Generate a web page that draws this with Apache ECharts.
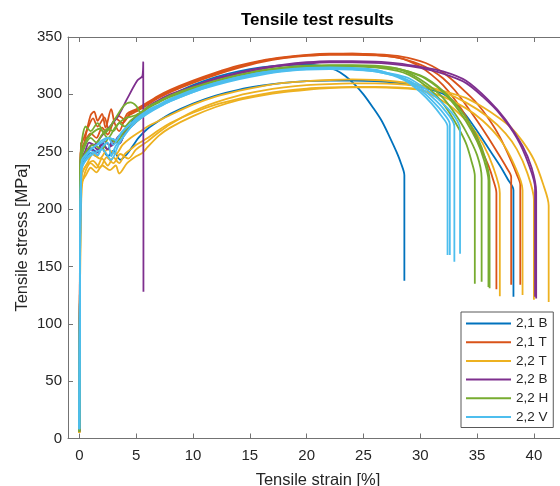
<!DOCTYPE html>
<html>
<head>
<meta charset="utf-8">
<script src="https://cdn.jsdelivr.net/npm/echarts@6/dist/echarts.min.js"></script>
<style>
  html, body { margin: 0; padding: 0; background: #fff; }
  #chart { width: 560px; height: 486px; }
</style>
</head>
<body>
<div id="chart"></div>
<script>
// Tick positions
const xTicks = [0, 5, 10, 15, 20, 25, 30, 35, 40];
const groupNames = ['2,1 B', '2,1 T', '2,2 T', '2,2 B', '2,2 H', '2,2 V'];
const groupColors = ['#0072BD', '#D95319', '#EDB120', '#7E2F8E', '#77AC30', '#4DBEEE'];

// Specimen curves: [strain %, stress MPa]
// 2,1 B
const b21_1 = [[0,7],[0.05,140],[0.12,240],[0.5,248],[1.0,253],[1.5,250],[2.0,258],[2.5,252],[3.0,261],[3.5,257],[4.0,266],[4.5,274],[5,281],[6,288],[7,294],[8,299],[10,308],[12,315],[14,320],[16,323.5],[18,325.5],[20,326],[21.5,324.5],[22.6,321],[23.4,316],[24.2,309],[25,300],[25.8,289],[26.6,277],[27.3,263],[27.9,250],[28.3,240],[28.6,229.5],[28.6,137.5]];
const b21_2 = [[0,6],[0.05,130],[0.12,236],[0.5,244],[1.0,249],[1.5,246],[2.0,253],[2.5,246],[3.0,251],[3.6,243],[4.2,248],[4.7,255],[5.2,262],[6,270],[7,277],[8,283],[10,292],[12,299],[14,304],[16,307.5],[18,310],[20,311.5],[22,312],[24,312],[26,311.5],[28,310],[29,308.5],[30,306.5],[31,304],[32,300.5],[33,293],[34,282],[35,268],[36,253],[37,238],[37.7,226],[38.2,216.5],[38.2,123.5]];
// 2,1 T
const t21_1 = [[0,6],[0.05,160],[0.12,258],[0.3,252],[0.6,266],[1.0,282],[1.3,285],[1.6,277],[2.0,283],[2.3,271],[2.8,287],[3.1,275],[3.5,268],[4.2,283],[5,287],[6,293],[7,299],[8,304],[10,312],[12,319],[14,325],[16,329.5],[18,332.5],[20,334.5],[22,335.5],[24,335.5],[26,334.5],[28,332],[29,329],[30,324],[31,317],[32,308],[33,296],[34,281],[35,260],[35.5,249],[36,238],[36.4,226],[36.7,214],[36.7,130]];
const t21_2 = [[0,5],[0.05,150],[0.15,255],[0.4,262],[0.8,272],[1.2,279],[1.6,272],[2.2,280],[2.6,269],[3.2,279],[3.8,275],[4.4,282],[5,285],[6,291],[7,297],[8,302],[10,310],[12,317],[14,323],[16,328],[18,331.5],[20,333.5],[22,334.5],[24,334.5],[26,334],[28,332],[30,326],[31,321],[32,314],[33,304],[34,291],[35,277],[36,262],[37,246],[37.6,236],[38,228],[38,134]];
const t21_3 = [[0,6],[0.05,140],[0.1,248],[0.5,259],[1.0,266],[1.5,262],[2.0,271],[2.5,265],[3.0,276],[3.5,281],[4.0,278],[4.5,284],[5,286],[6,292],[7,298],[8,303],[10,311],[12,318],[14,324],[16,329],[18,332],[20,334],[22,335],[24,335.5],[26,335],[28,333.5],[30,329],[31,325],[32,319],[33,311],[34,302],[35,292],[36,279],[37,263],[38,242],[38.5,230],[38.8,221],[38.8,134]];
// 2,2 T
const t22_1 = [[0,5],[0.05,120],[0.2,218],[0.5,232],[1,240],[1.5,236],[2,244],[2.5,238],[3,245],[3.5,240],[4,248],[4.5,252],[5,256],[6,262],[7,269],[8,275],[10,284],[12,291],[14,296],[16,300],[18,303],[20,305],[22,306],[24,306.5],[26,306.5],[28,306],[30,304],[31.5,297],[33,287],[34.5,272],[35.5,257],[36.4,237],[37,214],[37,124]];
const t22_2 = [[0,5],[0.05,110],[0.2,222],[0.6,230],[1,236],[1.5,232],[2,238],[2.7,234],[3.2,238],[3.5,231],[4.2,240],[5,246],[5.55,249],[6,254],[7,264],[8,271],[10,281],[12,289],[14,295],[16,299],[18,302],[20,304],[22,305.5],[24,306],[26,306],[28,305.5],[30,304],[32,298],[34,288],[35.5,277],[37,261],[38.2,240],[39,216.5],[39,125]];
const t22_3 = [[0,5],[0.05,130],[0.2,228],[0.6,238],[1.2,242],[1.8,236],[2.4,245],[3,240],[3.6,248],[4.3,244],[5,252],[6,259],[7,267],[8,274],[10,285],[12,293],[14,299],[16,303],[18,306],[20,308],[22,309],[24,309.5],[26,309.5],[28,309],[30,307],[32,302],[34,293],[36,280],[37.5,266],[38.5,252],[39.4,232],[40,208],[40,121]];
const t22_4 = [[0,5],[0.05,140],[0.2,230],[0.7,240],[1.2,248],[1.8,244],[2.5,252],[3.2,248],[3.8,256],[4.5,262],[5.55,269],[6,272],[7,277],[8,282],[10,291],[12,298],[14,303],[16,307],[18,310],[20,311.5],[22,312.5],[24,313],[26,312.5],[28,311],[30,308],[32,303],[34,297],[35.5,289],[37,279],[38,271],[39,259],[40,243],[40.8,222],[41.3,203],[41.3,119]];
// 2,2 B
const b22_1 = [[0,8],[0.05,150],[0.1,242],[0.5,250],[0.85,258],[1.3,256],[1.9,263],[2.5,270],[3.35,280],[4.2,296],[5.1,312],[5.55,316],[5.62,328],[5.64,128]];
const b22_2 = [[0,6],[0.05,130],[0.12,238],[0.5,246],[1,252],[1.5,249],[2,256],[2.5,252],[3,260],[3.5,257],[4,266],[5,276],[6,288],[7,294],[8,299],[10,306],[12,313],[14,318],[16,322],[18,325],[20,327],[22,328],[24,328],[26,327.5],[28,326],[30,323],[32,318],[34,310],[35.5,298],[37,283],[38.5,262],[39.5,240],[40.1,218],[40.1,123.5]];
const b22_3 = [[0,6],[0.05,130],[0.15,242],[0.6,250],[1.1,256],[1.6,252],[2.2,259],[2.8,255],[3.4,263],[4,268],[5,279],[6,289],[7,295],[8,300],[10,307],[12,314],[14,319],[16,323],[18,326],[20,328],[22,329],[24,329],[26,328.5],[28,327],[30,324],[32,320],[34,312],[36,295],[37.5,278],[39,255],[39.8,236],[40.2,215],[40.2,122]];
// 2,2 H
const h22_1 = [[0,6],[0.05,140],[0.1,245],[0.56,272],[1.0,268],[1.6,275],[2.2,266],[3.05,277],[3.9,290],[4.5,293],[5.0,290],[5.4,284],[6,289],[7,294],[8,298],[10,305],[12,311],[14,316],[16,320],[18,322.5],[20,324],[22,324.5],[24,324.5],[26,323.5],[28,320.5],[29,317],[30,311],[31,303],[32,292],[33,277],[34,258],[34.5,242],[34.8,229],[34.8,135]];
const h22_2 = [[0,6],[0.05,130],[0.1,240],[0.5,255],[1,262],[1.5,258],[2,265],[2.5,270],[3,268],[3.5,275],[4,272],[4.5,277],[5,281],[6,288],[7,293],[8,298],[10,305],[12,311],[14,316],[16,320],[18,323],[20,324.5],[22,325],[24,325],[26,324],[28,322],[29,318.5],[30,313],[31,306],[32,297],[33,284],[34,268],[35,247],[35.4,227],[35.4,136.6]];
const h22_3 = [[0,6],[0.05,120],[0.1,238],[0.6,250],[1.2,256],[2,252],[2.6,262],[3.2,258],[4,268],[5,276],[6,284],[7,290],[8,296],[10,304],[12,310],[14,315],[16,319],[18,322],[20,323.5],[22,324.5],[24,324.5],[26,324],[28,322.5],[30,316],[31,310],[32,302],[33,291],[34,277],[35,259],[35.6,243],[36,225],[36,132]];
const h22_4 = [[0,6],[0.05,135],[0.1,242],[0.5,258],[1,265],[1.8,270],[2.5,262],[3.2,272],[4,279],[5,282],[6,288],[7,294],[8,299],[10,306],[12,312],[14,317],[16,321],[18,323.5],[20,325],[22,325.5],[24,325.5],[26,325],[28,322.5],[30,316.5],[31,311],[32,303],[33,293],[34,280],[35,263],[35.7,245],[36.1,224],[36.1,131]];
// 2,2 V
const v22_1 = [[0,9],[0.05,120],[0.15,232],[0.4,240],[0.8,246],[1.2,250],[1.6,247],[2.0,254],[2.5,258],[2.8,246],[3.2,255],[3.8,262],[4.4,270],[5,277],[6,284],[7,289],[8,294],[10,302],[12,309],[14,314],[16,318],[18,320.5],[20,322],[22,322.5],[24,322],[26,320],[27,318],[28,315],[29,310],[30,302],[31,292],[31.8,282],[32.4,272],[32.4,160]];
const v22_2 = [[0,8],[0.05,130],[0.15,238],[0.6,246],[1,252],[1.5,256],[2,260],[2.5,262],[3,256],[3.5,264],[4,270],[5,278],[6,285],[7,290],[8,295],[10,303],[12,310],[14,315],[16,319],[18,321],[20,322.5],[22,323],[24,322.5],[26,321],[27,319],[28,316],[29,311.5],[30,304],[31,295],[32,284],[32.6,274],[32.6,160]];
const v22_3 = [[0,8],[0.05,125],[0.2,236],[0.7,244],[1.2,248],[2,252],[2.8,243],[3.4,255],[4,265],[5,276],[6,283],[7,289],[8,294],[10,302],[12,308],[14,313],[16,317],[18,320],[20,321.5],[22,322],[24,321.5],[26,320],[27,318],[28,316],[29,312],[30,306],[31,298],[32,288],[33,272],[33,154]];
const v22_4 = [[0,8],[0.05,130],[0.2,242],[0.8,250],[1.4,255],[2,258],[2.6,262],[3.2,260],[3.8,268],[4.5,274],[5,279],[6,286],[7,291],[8,296],[10,304],[12,310],[14,315],[16,319],[18,321.5],[20,323],[22,323.5],[24,323],[26,321.5],[27,319],[28,317],[29,314],[30,308],[31,301],[32,292],[33,281],[33.5,270],[33.5,161]];

const groups = [
  [b21_1, b21_2],
  [t21_1, t21_2, t21_3],
  [t22_1, t22_2, t22_3, t22_4],
  [b22_1, b22_2, b22_3],
  [h22_1, h22_2, h22_3, h22_4],
  [v22_1, v22_2, v22_3, v22_4]
];

const FONT = "'Liberation Sans', Arial, Helvetica, sans-serif";
const AXIS_COLOR = '#737373';
const TEXT_COLOR = '#262626';

const series = [];
groups.forEach((curves, gi) => {
  curves.forEach(curve => {
    series.push({
      type: 'line',
      name: groupNames[gi],
      data: curve,
      symbol: 'none',
      smooth: 0.3,
      color: groupColors[gi],
      lineStyle: { width: 1.8, color: groupColors[gi] },
      xAxisIndex: 0,
      yAxisIndex: 0,
      animation: false,
      emphasis: { disabled: true }
    });
  });
});

const chart = echarts.init(document.getElementById('chart'), null, { renderer: 'canvas' });
chart.setOption({
  backgroundColor: '#ffffff',
  animation: false,
  textStyle: { fontFamily: FONT },
  title: {
    text: 'Tensile test results',
    left: 241,
    top: 12,
    padding: 0,
    textStyle: { fontFamily: FONT, fontSize: 17, fontWeight: 'bold', color: '#000' }
  },
  grid: { left: 68, right: -8, top: 37, bottom: 47.5, containLabel: false, outerBoundsMode: 'none' },
  legend: {
    data: groupNames,
    orient: 'vertical',
    left: 461,
    top: 312,
    padding: [3, 5, 2, 5],
    icon: 'rect',
    itemWidth: 45,
    itemHeight: 2,
    itemGap: 1.7,
    borderColor: '#595959',
    borderWidth: 1,
    backgroundColor: '#ffffff',
    selectedMode: false,
    textStyle: { fontFamily: FONT, fontSize: 13.5, lineHeight: 17, color: TEXT_COLOR }
  },
  xAxis: [
    {
      type: 'value', min: -1, max: 43, position: 'bottom',
      name: 'Tensile strain [%]', nameLocation: 'middle', nameGap: 33,
      nameTextStyle: { fontFamily: FONT, fontSize: 16.5, color: TEXT_COLOR },
      axisLine: { show: true, onZero: false, lineStyle: { color: AXIS_COLOR, width: 1 } },
      axisTick: { show: true, inside: true, length: 5, customValues: xTicks, lineStyle: { color: AXIS_COLOR } },
      axisLabel: { customValues: xTicks, fontFamily: FONT, fontSize: 15, color: TEXT_COLOR, margin: 10 },
      splitLine: { show: false }
    },
    {
      type: 'value', min: -1, max: 43, position: 'top',
      axisLine: { show: true, onZero: false, lineStyle: { color: AXIS_COLOR, width: 1 } },
      axisTick: { show: true, inside: true, length: 5, customValues: xTicks, lineStyle: { color: AXIS_COLOR } },
      axisLabel: { show: false },
      splitLine: { show: false }
    }
  ],
  yAxis: [
    {
      type: 'value', min: 0, max: 350, interval: 50,
      name: 'Tensile stress [MPa]', nameLocation: 'middle', nameGap: 37, nameMoveOverlap: false,
      nameTextStyle: { fontFamily: FONT, fontSize: 16.5, color: TEXT_COLOR },
      axisLine: { show: true, onZero: false, lineStyle: { color: AXIS_COLOR, width: 1 } },
      axisTick: { show: true, inside: true, length: 5, lineStyle: { color: AXIS_COLOR } },
      axisLabel: { fontFamily: FONT, fontSize: 15, color: TEXT_COLOR, margin: 6 },
      splitLine: { show: false }
    }
  ],
  series: series
});
</script>
</body>
</html>
